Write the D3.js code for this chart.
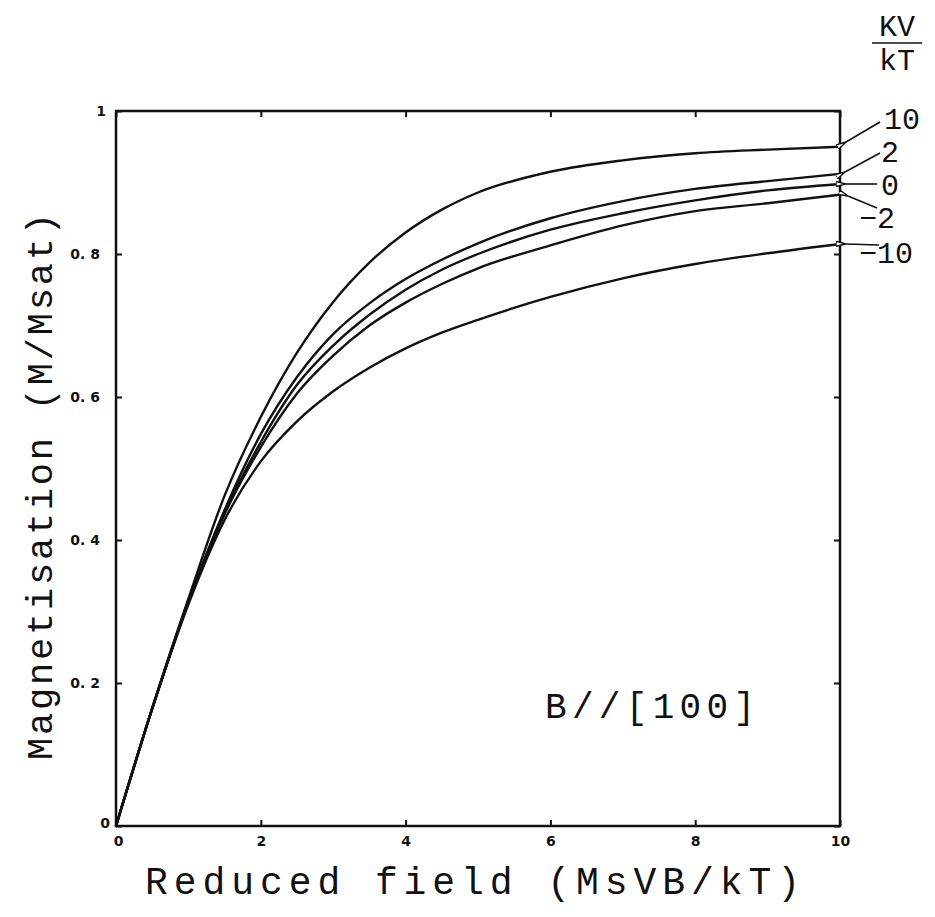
<!DOCTYPE html>
<html>
<head>
<meta charset="utf-8">
<script src="https://cdn.jsdelivr.net/npm/d3@7.9.0/dist/d3.min.js"></script>
<style>
  body { margin: 0; background: #fff; }
  svg { display: block; }
  .mono { font-family: "Liberation Mono", "DejaVu Sans Mono", monospace; fill: #111; }
  .tick text { font-family: "DejaVu Sans", sans-serif; font-weight: bold; font-size: 14px; fill: #111; }
</style>
</head>
<body>
<div id="chart"></div>
<script>
const width = 935, height = 917;

// reduced field values
const fieldValues = [0, 0.5, 1, 1.5, 2, 2.5, 3, 3.5, 4, 4.5, 5, 6, 7, 8, 9, 10];

// magnetisation, one array per KV/kT
const kv10 = [0, 0.165, 0.318, 0.462, 0.572, 0.662, 0.733, 0.788, 0.830, 0.862, 0.886, 0.915, 0.931, 0.941, 0.946, 0.950];
const kv2 = [0, 0.164, 0.314, 0.442, 0.548, 0.628, 0.688, 0.731, 0.765, 0.792, 0.815, 0.850, 0.874, 0.891, 0.902, 0.912];
const kv0 = [0, 0.164, 0.313, 0.438, 0.537, 0.617, 0.672, 0.715, 0.750, 0.778, 0.800, 0.834, 0.857, 0.875, 0.889, 0.898];
const kvm2 = [0, 0.164, 0.312, 0.436, 0.530, 0.605, 0.658, 0.700, 0.732, 0.758, 0.780, 0.812, 0.840, 0.860, 0.871, 0.883];
const kvm10 = [0, 0.164, 0.310, 0.428, 0.510, 0.566, 0.608, 0.641, 0.668, 0.690, 0.708, 0.740, 0.766, 0.786, 0.801, 0.814];

const seriesLabels = ["10", "2", "0", "\u22122", "\u221210"];
const seriesValues = [kv10, kv2, kv0, kvm2, kvm10];

const xTicks = [0, 2, 4, 6, 8, 10];
const yTicks = [0, 0.2, 0.4, 0.6, 0.8, 1];

const svg = d3.select("#chart").append("svg")
    .attr("width", width)
    .attr("height", height);

const x = d3.scaleLinear().domain([0, 10]).range([116, 840]);
const y = d3.scaleLinear().domain([0, 1]).range([826, 111]);

// frame
svg.append("rect")
    .attr("x", x(0))
    .attr("y", y(1))
    .attr("width", x(10) - x(0))
    .attr("height", y(0) - y(1))
    .attr("fill", "none")
    .attr("stroke", "#111")
    .attr("stroke-width", 2.5);

const bottomAxis = svg.append("g")
    .attr("transform", "translate(0," + y(0) + ")")
    .call(d3.axisBottom(x).tickValues(xTicks).tickSize(-6).tickPadding(10).tickFormat(d3.format("d")));
const leftAxis = svg.append("g")
    .attr("transform", "translate(" + x(0) + ",0)")
    .call(d3.axisLeft(y).tickValues(yTicks).tickSize(-6).tickPadding(16)
        .tickFormat(d => (d === 0 || d === 1) ? d3.format("d")(d) : d3.format(".1f")(d).replace(".", ". ")));
svg.append("g")
    .attr("transform", "translate(0," + y(1) + ")")
    .call(d3.axisTop(x).tickValues(xTicks).tickSize(-6).tickFormat(""));
svg.append("g")
    .attr("transform", "translate(" + x(10) + ",0)")
    .call(d3.axisRight(y).tickValues(yTicks).tickSize(-6).tickFormat(""));

svg.selectAll(".domain").remove();
svg.selectAll(".tick line").attr("stroke", "#111").attr("stroke-width", 2);
bottomAxis.selectAll(".tick text").filter(d => d === 0).attr("dx", 2);
leftAxis.selectAll(".tick text").filter(d => d === 0).attr("dy", "0.1em").attr("x", -6);
leftAxis.selectAll(".tick text").filter(d => d === 1).attr("x", -10);

// curves
const line = d3.line()
    .x((d, i) => x(fieldValues[i]))
    .y(d => y(d))
    .curve(d3.curveMonotoneX);

svg.selectAll(".curve")
    .data(seriesValues)
    .join("path")
    .attr("class", "curve")
    .attr("d", d => line(d))
    .attr("fill", "none")
    .attr("stroke", "#111")
    .attr("stroke-width", 2.4);

// end labels with arrows
svg.append("defs").append("marker")
    .attr("id", "head")
    .attr("viewBox", "0 0 10 6")
    .attr("refX", 0)
    .attr("refY", 3)
    .attr("markerWidth", 10)
    .attr("markerHeight", 6)
    .attr("orient", "auto-start-reverse")
    .attr("markerUnits", "userSpaceOnUse")
    .append("path")
    .attr("d", "M0,3 L10,0.5 L10,5.5 Z")
    .attr("fill", "#fff")
    .attr("stroke", "#111")
    .attr("stroke-width", 1.4);

const labelPos = [
    { tx: 884, ty: 129, x1: 880, y1: 122, x2: 846, y2: 142 },
    { tx: 881, ty: 162, x1: 880, y1: 153, x2: 845, y2: 172 },
    { tx: 881, ty: 195, x1: 877, y1: 184, x2: 846, y2: 184 },
    { tx: 859, ty: 228, x1: 877, y1: 208, x2: 848, y2: 196 },
    { tx: 859, ty: 263, x1: 879, y1: 245, x2: 846, y2: 244 }
];

svg.selectAll(".arrow")
    .data(labelPos)
    .join("line")
    .attr("class", "arrow")
    .attr("x1", d => d.x1).attr("y1", d => d.y1)
    .attr("x2", d => d.x2).attr("y2", d => d.y2)
    .attr("stroke", "#111")
    .attr("stroke-width", 1.6)
    .attr("marker-end", "url(#head)");

svg.selectAll(".kvlabel")
    .data(seriesLabels)
    .join("text")
    .attr("class", "kvlabel mono")
    .attr("x", (d, i) => labelPos[i].tx)
    .attr("y", (d, i) => labelPos[i].ty)
    .style("font-size", "30px")
    .text(d => d);

// KV/kT heading
svg.append("text").attr("class", "mono")
    .attr("x", 897).attr("y", 36)
    .attr("text-anchor", "middle")
    .style("font-size", "30px")
    .text("KV");
svg.append("line")
    .attr("x1", 872).attr("x2", 922)
    .attr("y1", 43).attr("y2", 43)
    .attr("stroke", "#111").attr("stroke-width", 1.5);
svg.append("text").attr("class", "mono")
    .attr("x", 897).attr("y", 70)
    .attr("text-anchor", "middle")
    .style("font-size", "30px")
    .text("kT");

// titles
svg.append("text").attr("class", "mono")
    .attr("x", 145).attr("y", 894)
    .attr("textLength", 655)
    .attr("lengthAdjust", "spacing")
    .style("font-size", "38px")
    .text("Reduced field (MsVB/kT)");

svg.append("text").attr("class", "mono")
    .attr("transform", "translate(52,760) rotate(-90)")
    .attr("textLength", 547)
    .attr("lengthAdjust", "spacing")
    .style("font-size", "37px")
    .text("Magnetisation (M/Msat)");

svg.append("text").attr("class", "mono")
    .attr("x", 545).attr("y", 718)
    .attr("textLength", 210)
    .attr("lengthAdjust", "spacing")
    .style("font-size", "36px")
    .text("B//[100]");
</script>
</body>
</html>
